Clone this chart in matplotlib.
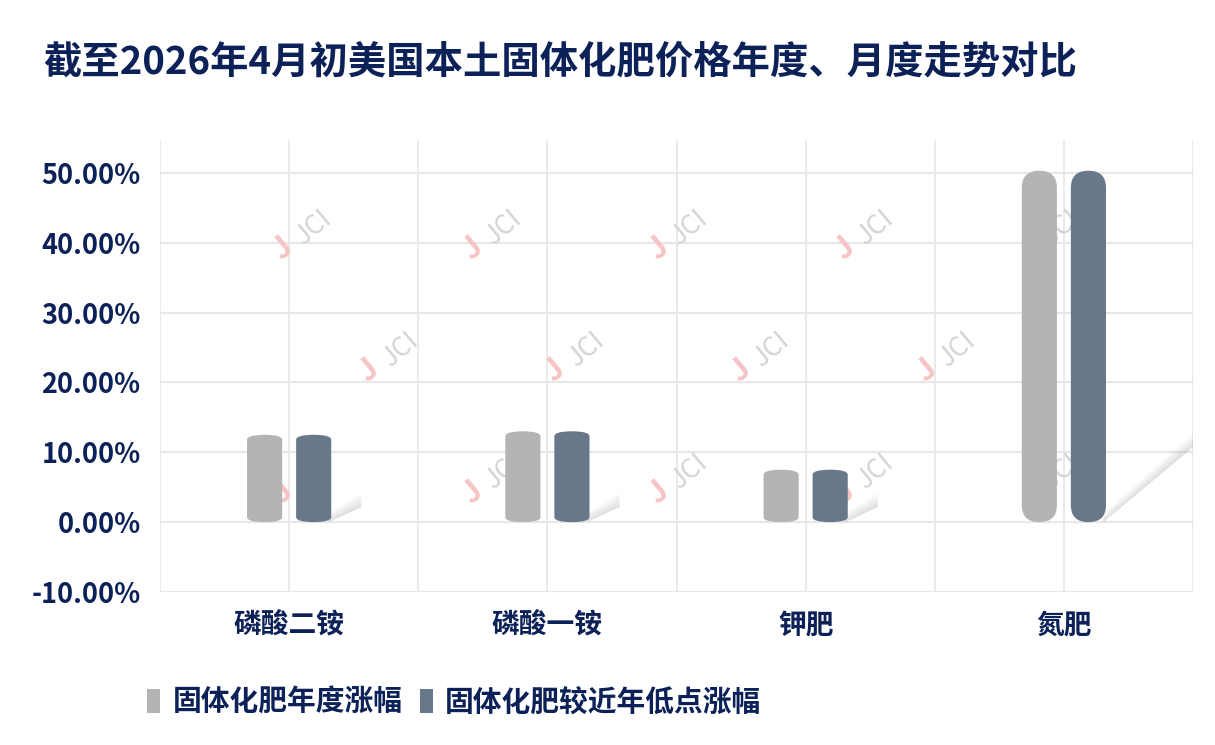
import matplotlib
matplotlib.use("Agg")
import matplotlib.pyplot as plt
import numpy as np
from matplotlib.patches import FancyBboxPatch, Polygon, Rectangle
from matplotlib.ticker import FuncFormatter

plt.rcParams["font.family"] = ["Noto Sans CJK SC", "DejaVu Sans"]

TITLE = "截至2026年4月初美国本土固体化肥价格年度、月度走势对比"
categories = ["磷酸二铵", "磷酸一铵", "钾肥", "氮肥"]
series_names = ["固体化肥年度涨幅", "固体化肥较近年低点涨幅"]
annual_rise = [12.5, 13.0, 7.5, 50.3]
rise_from_low = [12.5, 13.0, 7.5, 50.3]

NAVY = "#0c2158"
GRID = "#e8e8e8"
COLORS = ["#b3b4b4", "#687789"]

fig = plt.figure(figsize=(12.15, 7.45), dpi=100)
fig.patch.set_facecolor("white")
ax = fig.add_axes([0.1317, 0.2054, 0.8502, 0.6067])

x = np.arange(len(categories))
bar_w = 0.136
offset = 0.095
ymin, ymax = -10, 54.7
ax.set_xlim(-0.5, len(categories) - 0.5)
ax.set_ylim(ymin, ymax)

# pixel -> data scale, used for rounded caps and shadows
ax_w_px = 0.8502 * 1215
ax_h_px = 0.6067 * 745
x_per_px = len(categories) / ax_w_px
y_per_px = (ymax - ymin) / ax_h_px

# soft shadows behind the dark bars
for xi, v in zip(x, rise_from_low):
    x0 = xi + offset + bar_w / 2
    dx = (30 if v < 30 else 87) * x_per_px
    dy = (15 if v < 30 else 75) * y_per_px
    for k in range(8):
        w = (8 - k) * 1.8 * y_per_px
        poly = Polygon([(x0 - 0.01, 0), (x0 + dx, dy), (x0 + dx, dy + w), (x0 - 0.01, w * 0.6)],
                       closed=True, facecolor="#9a9a9a", edgecolor="none", alpha=0.04, zorder=1)
        ax.add_patch(poly)

# faint watermarks (axes fraction)
wm_pos = [(0.136, 0.79), (0.32, 0.79), (0.50, 0.79), (0.68, 0.79), (0.86, 0.79),
          (0.22, 0.52), (0.40, 0.52), (0.58, 0.52), (0.76, 0.52),
          (0.136, 0.25), (0.32, 0.25), (0.50, 0.25), (0.68, 0.25), (0.86, 0.25)]
for wx, wy in wm_pos:
    ax.text(wx + 0.012, wy + 0.015, "JCI", transform=ax.transAxes, rotation=40, fontsize=19,
            color="#d4d4d4", ha="center", va="center", zorder=1, clip_on=True)
    ax.text(wx - 0.018, wy - 0.03, "J", transform=ax.transAxes, rotation=40, fontsize=22,
            fontweight="bold", color="#f6c4c4", ha="center", va="center", zorder=1, clip_on=True)


def rounded_bar(xc, v, color):
    left = xc - bar_w / 2
    cap_px = 17 if v > 30 else 5
    asp = cap_px * y_per_px / (bar_w / 2)
    patch = FancyBboxPatch((left, 0), bar_w, v,
                           boxstyle=f"round,pad=0,rounding_size={bar_w / 2}",
                           mutation_aspect=asp, facecolor=color, edgecolor="none", zorder=3)
    ax.add_patch(patch)


for xi, v in zip(x, annual_rise):
    rounded_bar(xi - offset, v, COLORS[0])
for xi, v in zip(x, rise_from_low):
    rounded_bar(xi + offset, v, COLORS[1])

# grid
for yv in np.arange(-10, 51, 10):
    ax.axhline(yv, color=GRID, lw=1.6, zorder=0)
for xv in np.arange(-0.5, len(categories), 0.5):
    ax.axvline(xv, color=GRID, lw=1.3, zorder=0)

for s in ax.spines.values():
    s.set_visible(False)

ax.set_xticks(x)
ax.set_xticklabels(categories, fontsize=20, fontweight="bold", color=NAVY)
ax.set_yticks(np.arange(-10, 51, 10))
ax.yaxis.set_major_formatter(FuncFormatter(lambda v, p: f"{v:.2f}%"))
ax.tick_params(axis="y", length=0, pad=14, labelsize=19.5, labelcolor=NAVY)
ax.tick_params(axis="x", length=0, pad=14)
for lbl in ax.get_yticklabels():
    lbl.set_fontweight("bold")

fig.text(0.036, 0.917, TITLE, fontsize=27.6, fontweight="bold", color=NAVY,
         ha="left", va="center")

# legend
handles = [Rectangle((0, 0), 1, 1, facecolor=c, edgecolor="none") for c in COLORS]
leg = fig.legend(handles, series_names, loc="center left", bbox_to_anchor=(0.1, 0.058),
                 ncol=2, frameon=False, handlelength=0.45, handleheight=0.95,
                 handletextpad=0.42, columnspacing=0.6,
                 prop={"family": ["Noto Sans CJK SC", "DejaVu Sans"], "size": 20.7, "weight": "bold"})
for t in leg.get_texts():
    t.set_color(NAVY)

fig.savefig("out.png", dpi=100, facecolor="white")
